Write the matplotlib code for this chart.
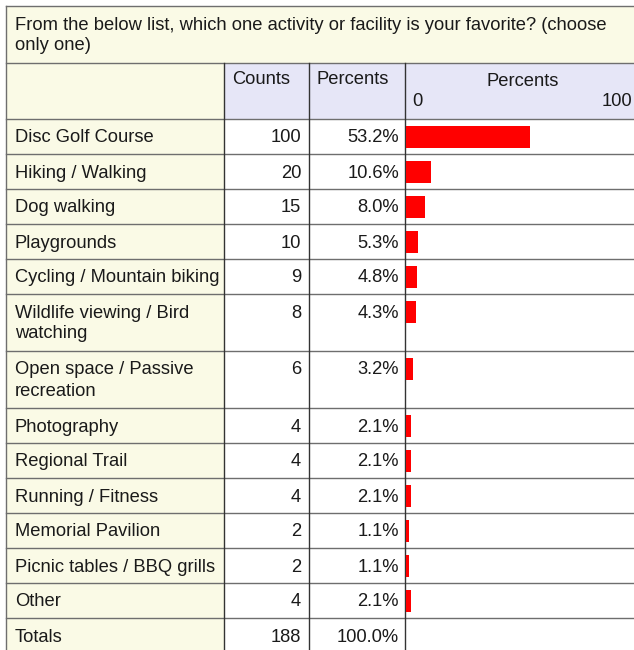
import matplotlib
matplotlib.use("Agg")
import matplotlib.pyplot as plt
from matplotlib.patches import Rectangle

plt.rcParams["font.family"] = ["Liberation Sans", "DejaVu Sans"]

TITLE = ["From the below list, which one activity or facility is your favorite? (choose",
         "only one)"]
labels = [
    ["Disc Golf Course"],
    ["Hiking / Walking"],
    ["Dog walking"],
    ["Playgrounds"],
    ["Cycling / Mountain biking"],
    ["Wildlife viewing / Bird", "watching"],
    ["Open space / Passive", "recreation"],
    ["Photography"],
    ["Regional Trail"],
    ["Running / Fitness"],
    ["Memorial Pavilion"],
    ["Picnic tables / BBQ grills"],
    ["Other"],
]
counts = [100, 20, 15, 10, 9, 8, 6, 4, 4, 4, 2, 2, 4]
percents = [53.2, 10.6, 8.0, 5.3, 4.8, 4.3, 3.2, 2.1, 2.1, 2.1, 1.1, 1.1, 2.1]
total_count = 188
total_pct = 100.0

YELLOW = "#fafae6"
LAVENDER = "#e6e6f7"
LINE = "#6e6e6e"
DARK = "#333333"
TXT = "#1a1a1a"
RED = "#ff0000"
FS = 13.2

W, H = 634, 650
fig = plt.figure(figsize=(W / 100, H / 100), dpi=100)
ax = fig.add_axes([0, 0, 1, 1])
ax.set_xlim(0, W); ax.set_ylim(H, 0); ax.axis("off")

# column edges (pixels)
X0, XC, XP, XB, XR = 6, 224, 309, 405, 700
TOP, TITLE_BOT, HEAD_BOT = 6, 63, 119
ROW1, ROW2 = 35, 57

# row layout
rows = labels + [["Totals"]]
tops = []
y = HEAD_BOT
for lab in rows:
    tops.append(y)
    y += ROW1 if len(lab) == 1 else ROW2
bottoms = tops[1:] + [y]

# backgrounds
ax.add_patch(Rectangle((X0, TOP), XR - X0, TITLE_BOT - TOP, fc=YELLOW, ec="none"))
ax.add_patch(Rectangle((X0, TITLE_BOT), XC - X0, HEAD_BOT - TITLE_BOT, fc=YELLOW, ec="none"))
ax.add_patch(Rectangle((XC, TITLE_BOT), XR - XC, HEAD_BOT - TITLE_BOT, fc=LAVENDER, ec="none"))
ax.add_patch(Rectangle((X0, HEAD_BOT), XC - X0, y - HEAD_BOT, fc=YELLOW, ec="none"))

# title
for i, line in enumerate(TITLE):
    ax.text(15, 25 + i * 20, line, fontsize=FS, color=TXT, va="center", ha="left")

# header
ax.text(XC + 8, 80, "Counts", fontsize=FS, color=TXT, va="center")
ax.text(XP + 8, 80, "Percents", fontsize=FS, color=TXT, va="center")

# grid lines
ax.plot([X0, XR], [TOP, TOP], color=LINE, lw=1)
ax.plot([X0, X0], [TOP, H + 10], color=LINE, lw=1)
for yy in [TITLE_BOT, HEAD_BOT] + bottoms:
    ax.plot([X0, XR], [yy, yy], color=LINE, lw=1)
for xx in (XC, XP, XB):
    ax.plot([xx, xx], [TITLE_BOT, H + 10], color=DARK, lw=1)

# table body text
for lab, t, c, p in zip(rows, tops, counts + [total_count], percents + [total_pct]):
    for j, line in enumerate(lab):
        ax.text(15, t + 19 + j * 21, line, fontsize=FS, color=TXT, va="center")
    ax.text(301, t + 19, f"{c}", fontsize=FS, color=TXT, va="center", ha="right")
    ax.text(399, t + 19, f"{p:.1f}%", fontsize=FS, color=TXT, va="center", ha="right")

# bar column: 0..100 maps to x = 406..640 px
bx = fig.add_axes([406 / W, 0, 234 / W, 1])
bx.set_xlim(0, 100); bx.set_ylim(H, 0); bx.axis("off")
centers = [t + 18 for t in tops[:len(percents)]]
bx.barh(centers, percents, height=22, left=0, color=RED, zorder=3)
bx.text(50, 81, "Percents", fontsize=FS, color=TXT, va="center", ha="center")
bx.text(2.5, 102, "0", fontsize=FS, color=TXT, va="center", ha="left")
bx.text(96.5, 102, "100", fontsize=FS, color=TXT, va="center", ha="right")

fig.savefig("out.png", dpi=100)
